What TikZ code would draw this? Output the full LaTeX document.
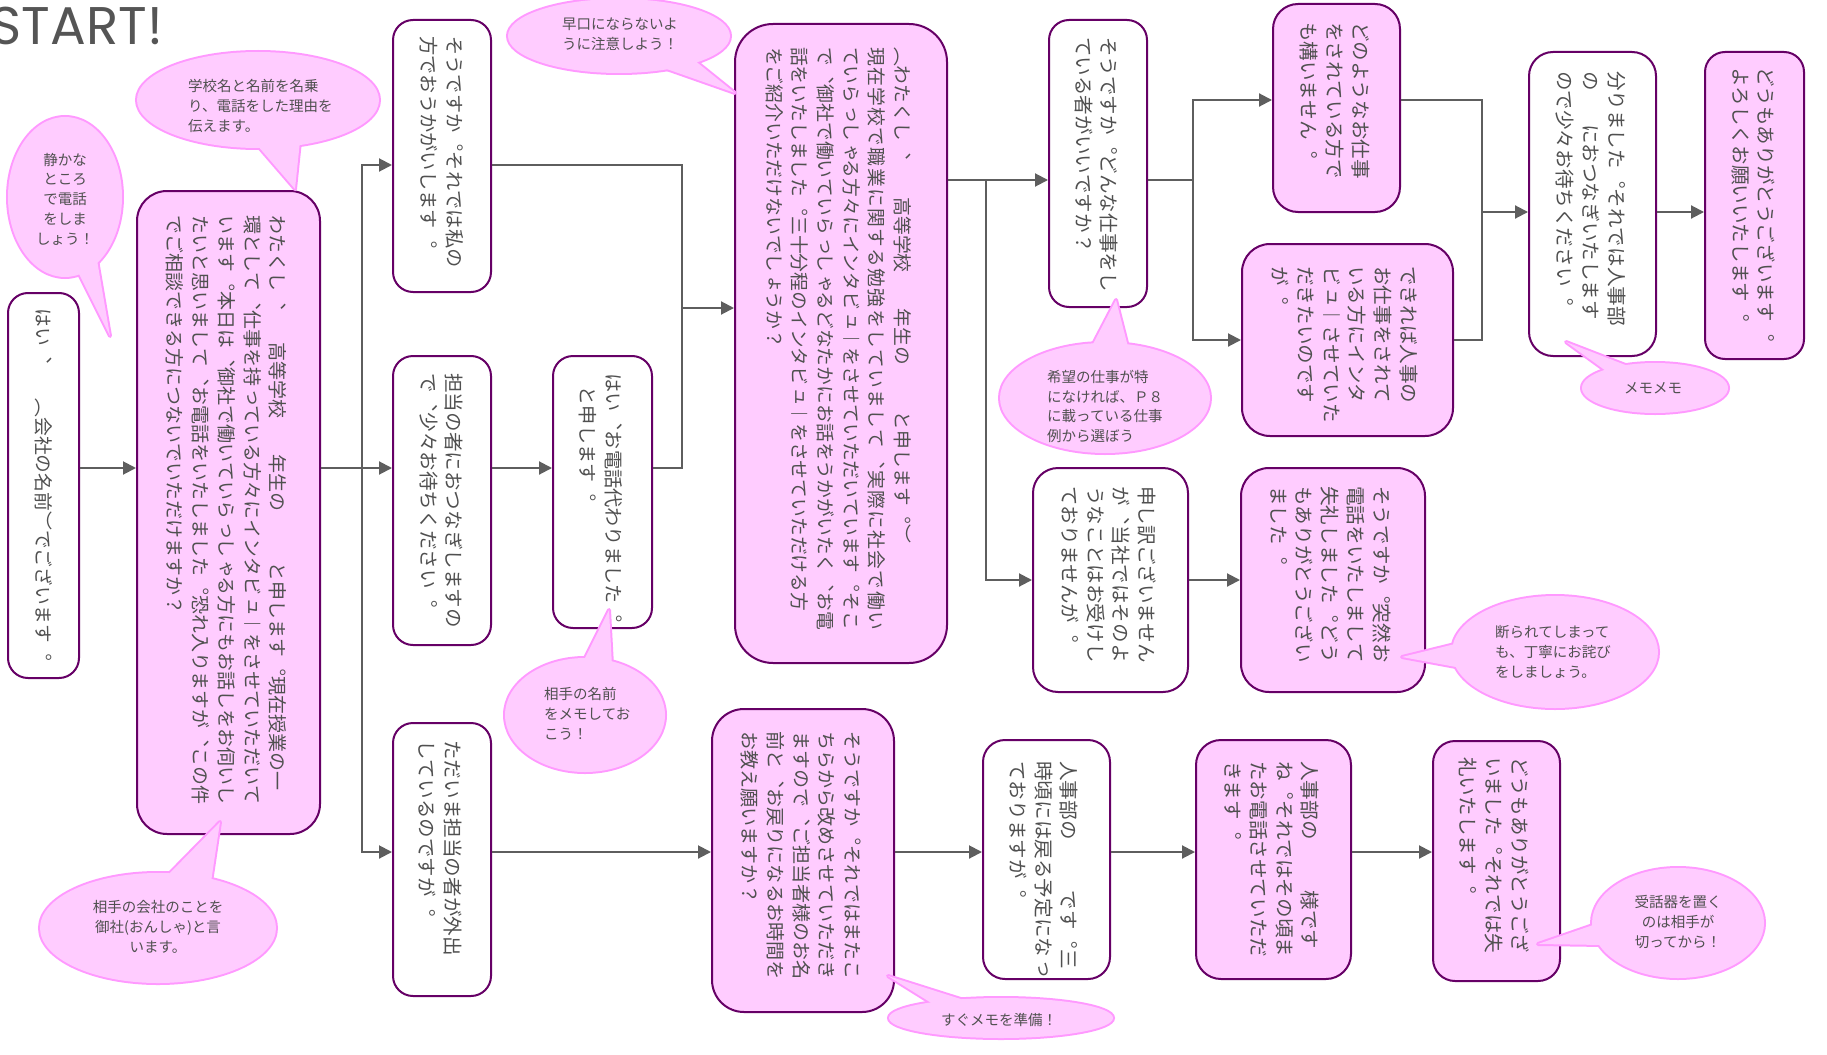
\documentclass[tikz,border=0pt]{standalone}
\usepackage{fontspec}
\usepackage{graphicx}
\usetikzlibrary{arrows.meta,shapes.geometric}
\newfontfamily\jpfont{Noto Sans CJK JP}
\newfontfamily\vjpfont[Vertical=RotatedGlyphs]{Noto Sans CJK JP}
\newfontfamily\startfont{Poppins}
\definecolor{boxline}{HTML}{660066}
\definecolor{boxpink}{HTML}{FFCCFF}
\definecolor{callline}{HTML}{FF99FF}
\definecolor{txt}{HTML}{505050}
\definecolor{wire}{HTML}{5E5E5E}
\definecolor{titlegray}{HTML}{555555}
\newcommand\cfont{\jpfont\fontsize{14.5pt}{19.8pt}\selectfont}
% vertical (top-to-bottom, right-to-left) Japanese text; columns separated by \\
\newcommand\vcols[2][19.6pt]{\rotatebox{-90}{\vjpfont\fontsize{#1}{25.7pt}\selectfont\let\\\cr
  \vbox{\baselineskip=25.7pt\lineskiplimit=-\maxdimen\lineskip=0pt\halign{##\hfil\cr#2\crcr}}}}
% a column spread evenly over a given length
\let\jstend\relax
\def\jst#1#2{\hbox to #1{\jstloop#2\jstend}}
\def\jstloop#1{\ifx#1\jstend\unskip\else#1\hskip0pt plus 1fil\expandafter\jstloop\fi}
% speech bubble: name, centre, x radius, y radius, tail base, tail tip, tail base
\newcommand\callout[7]{%
  \path[draw=callline,fill=callline,line width=4pt,line join=round] (#5) -- (#6) -- (#7) -- cycle;
  \path[draw=callline,line width=4pt] (#2) ellipse [x radius=#3pt, y radius=#4pt];
  \node[ellipse,fill=boxpink,inner sep=0pt,minimum width=#3pt*2,minimum height=#4pt*2] (#1) at (#2) {};
  \fill[boxpink] (#5) -- (#6) -- (#7) -- cycle;
}
\begin{document}
\begin{tikzpicture}[x=1pt,y=-1pt,
  wbox/.style={draw=boxline,line width=2pt,fill=white,rounded corners=#1,inner sep=0pt},
  wbox/.default=20pt,
  pbox/.style={draw=boxline,line width=2pt,fill=boxpink,rounded corners=#1,inner sep=0pt},
  pbox/.default=20pt,
  vt/.style={anchor=north,inner sep=0pt,text=txt},
  ctl/.style={inner sep=0pt,text=txt,font=\cfont,align=left},
  ctc/.style={inner sep=0pt,text=txt,font=\cfont,align=center},
  ln/.style={draw=wire,line width=2pt},
  arr/.style={draw=wire,line width=2pt,-{Triangle[length=13pt,width=13pt]}}]
\useasboundingbox (0,0) rectangle (1827,1054);
\fill[white] (0,0) rectangle (1827,1054);

\node[anchor=base east,inner sep=0pt,text=titlegray,font=\startfont\fontsize{53pt}{53pt}\selectfont] (title) at (163,45) {START!};

% boxes
\node[wbox,minimum width=71pt,minimum height=385pt] (a) at (43.5,485.5) {};
\node[pbox=30pt,minimum width=183pt,minimum height=643pt] (b) at (228.5,512.5) {};
\node[wbox,minimum width=98pt,minimum height=272pt] (c) at (442,156) {};
\node[wbox,minimum width=98pt,minimum height=289pt] (d) at (442,500.5) {};
\node[wbox,minimum width=99pt,minimum height=272pt] (e) at (602.5,492) {};
\node[wbox,minimum width=98pt,minimum height=273pt] (absent) at (442,859.5) {};
\node[pbox=38pt,minimum width=212pt,minimum height=639pt] (f) at (841,343.5) {};
\node[wbox,minimum width=98pt,minimum height=287pt] (g) at (1098,163.5) {};
\node[pbox=25pt,minimum width=127pt,minimum height=208pt] (k) at (1336.5,108) {};
\node[pbox=28pt,minimum width=211pt,minimum height=192pt] (l) at (1347.5,340) {};
\node[wbox=24pt,minimum width=127pt,minimum height=304pt] (m) at (1592.5,204) {};
\node[pbox,minimum width=99pt,minimum height=307pt] (n) at (1754.5,205.5) {};
\node[wbox=25pt,minimum width=155pt,minimum height=224pt] (j) at (1110.5,580) {};
\node[pbox=28pt,minimum width=184pt,minimum height=224pt] (p) at (1333,580) {};
\node[pbox=32pt,minimum width=182pt,minimum height=303pt] (h) at (803,860.5) {};
\node[wbox=22pt,minimum width=127pt,minimum height=239pt] (q) at (1046.5,859.5) {};
\node[pbox=25pt,minimum width=155pt,minimum height=239pt] (r) at (1273.5,859.5) {};
\node[pbox=22pt,minimum width=127pt,minimum height=240pt] (s) at (1496.5,861) {};

% connector levels and junctions
\coordinate (lvC) at (0,165);
\coordinate (lvB) at (0,852);
\coordinate (lvJ) at (0,580);
\coordinate (lvK) at (0,100);
\coordinate (lvL) at (0,340);
\coordinate (j1) at (362,468);
\coordinate (j2) at (682,308);
\coordinate (j3) at (986,180);
\coordinate (j4) at (1193,180);
\coordinate (j5) at (1482,212);

\draw[arr] (a.east |- j1) -- (b.west |- j1);
\draw[ln] (b.east |- j1) -- (j1);
\draw[arr] (j1) |- (c.west |- lvC);
\draw[arr] (j1) -- (d.west |- j1);
\draw[arr] (j1) |- (absent.west |- lvB);
\draw[arr] (d.east |- j1) -- (e.west |- j1);
\draw[ln] (c.east |- lvC) -| (j2);
\draw[ln] (e.east |- j1) -| (j2);
\draw[arr] (j2) -- (f.west |- j2);
\draw[ln] (f.east |- j3) -- (j3);
\draw[arr] (j3) -- (g.west |- j3);
\draw[arr] (j3) |- (j.west |- lvJ);
\draw[ln] (g.east |- j4) -- (j4);
\draw[arr] (j4) |- (k.west |- lvK);
\draw[arr] (j4) |- (l.west |- lvL);
\draw[ln] (k.east |- lvK) -| (j5);
\draw[ln] (l.east |- lvL) -| (j5);
\draw[arr] (j5) -- (m.west |- j5);
\draw[arr] (m.east |- j5) -- (n.west |- j5);
\draw[arr] (j.east |- lvJ) -- (p.west |- lvJ);
\draw[arr] (absent.east |- lvB) -- (h.west |- lvB);
\draw[arr] (h.east |- lvB) -- (q.west |- lvB);
\draw[arr] (q.east |- lvB) -- (r.west |- lvB);
\draw[arr] (r.east |- lvB) -- (s.west |- lvB);

% speech bubbles
\callout{tipquiet}{65,197}{57}{80}{78,272}{110,336}{97,260}
\callout{tipname}{258,100}{121}{48}{257,145}{295,189}{300,141}
\callout{tiponsha}{158,928}{118}{55}{168,875}{220,822}{211,882}
\callout{tipmemo}{585,715}{80}{57}{583,662}{609,610}{612,666}
\callout{tipslow}{619,36}{111}{37}{694,60}{735,93}{661,67}
\callout{tipjob}{1105,398}{105}{55}{1092,346}{1116,300}{1128,347}
\callout{tipmemomemo}{1655,388}{73}{25}{1606,371}{1566,342}{1628,366}
\callout{tipsorry}{1555,652}{103}{56}{1455,644}{1402,657}{1456,667}
\callout{tipready}{1001,1018}{112}{20}{933,1004}{888,976}{967,1001}
\callout{tiphangup}{1678,923}{86}{55}{1596,924}{1538,944}{1604,945}

\node[ctc] at (65,199) {静かな\\ところ\\で電話\\をしま\\しょう！};
\node[ctl,anchor=west] at (188,106) {学校名と名前を名乗\\り、電話をした理由を\\伝えます。};
\node[ctc] at (158,927) {相手の会社のことを\\御社(おんしゃ)と言\\います。};
\node[ctl,anchor=west] at (544,714) {相手の名前\\をメモしてお\\こう！};
\node[ctl,anchor=west] at (562,34) {早口にならないよ\\うに注意しよう！};
\node[ctl,anchor=west] at (1047,406.5) {希望の仕事が特\\になければ、Ｐ８\\に載っている仕事\\例から選ぼう};
\node[ctc] at (1653,388) {メモメモ};
\node[ctl,anchor=west] at (1495,652) {断られてしまって\\も、丁寧にお詫び\\をしましょう。};
\node[ctc] at (999,1020) {すぐメモを準備！};
\node[ctc] at (1678,922) {受話器を置く\\のは相手が\\切ってから！};

% box texts
\node[vt] (a-t) at (43.5,308) {\vcols[18.8pt]{はい︑\hspace{1.8em}︵会社の名前︶でございます︒}};
\node[vt] (b-t) at (226.6,215) {\vcols[19pt]{わたくし︑\hspace{1.7em}高等学校\hspace{1.9em}年生の\hspace{2.7em}と申します︒現在授業の一\\環として︑仕事を持っている方々にインタビュ︱をさせていただいて\\います︒本日は︑御社で働いていらっしゃる方にもお話しをお伺いし\\たいと思いまして︑お電話をいたしました︒恐れ入りますが︑この件\\でご相談できる方につないでいただけますか？}};
\node[vt] (c-t) at (441.5,36) {\vcols[19.3pt]{そうですか︒それでは私の\\方でおうかがいします︒}};
\node[vt] (d-t) at (441.5,373) {\vcols{担当の者におつなぎしますの\\で︑少々お待ちください︒}};
\node[vt] (e-t) at (600.5,373) {\vcols[19.2pt]{はい︑お電話代わりました︒\\\hspace{0.7em}と申します︒}};
\node[vt] (absent-t) at (440.5,740) {\vcols{ただいま担当の者が外出\\しているのですが︒}};
\node[vt] (f-t) at (838.5,47) {\vcols[18.8pt]{︵わたくし︑\hspace{2em}高等学校\hspace{1.9em}年生の\hspace{2.5em}と申します︒︶\\\jst{31em}{現在学校で職業に関する勉強をしていまして︑実際に社会で働い}\\ていらっしゃる方々にインタビュ︱をさせていただいています︒そこ\\で︑御社で働いていらっしゃるどなたかにお話をうかがいたく︑お電\\話をいたしました︒三十分程のインタビュ︱をさせていただける方\\をご紹介いただけないでしょうか？}};
\node[vt] (g-t) at (1096.5,37) {\vcols{そうですか︒どんな仕事をし\\ている者がいいですか？}};
\node[vt] (k-t) at (1335,22) {\vcols{どのようなお仕事\\をされている方で\\も構いません︒}};
\node[vt] (l-t) at (1345,266) {\vcols{できれば人事の\\お仕事をされて\\いる方にインタ\\ビュ︱させていた\\だきたいのです\\が︒}};
\node[vt] (m-t) at (1591,71) {\vcols{分りました︒それでは人事部\\の\hspace{1.7em}におつなぎいたします\\ので少々お待ちください︒}};
\node[vt] (n-t) at (1753.5,67) {\vcols{どうもありがとうございます︒\\よろしくお願いいたします︒}};
\node[vt] (j-t) at (1109,486) {\vcols{申し訳ございません\\が︑当社ではそのよ\\うなことはお受けし\\ておりませんが︒}};
\node[vt] (p-t) at (1330.5,486) {\vcols{そうですか︒突然お\\電話をいたしまして\\失礼しました︒どう\\もありがとうござい\\ました︒}};
\node[vt] (h-t) at (801,731) {\vcols[19.1pt]{そうですか︒それではまたこ\\ちらから改めさせていただき\\ますので︑ご担当者様のお名\\前と︑お戻りになるお時間を\\お教え願いますか？}};
\node[vt] (q-t) at (1044,761) {\vcols{人事部の\hspace{2.6em}です︒三\\時頃には戻る予定になっ\\ておりますが︒}};
\node[vt] (r-t) at (1272,761) {\vcols{人事部の\hspace{2.6em}様です\\ね︒それではその頃ま\\たお電話させていただ\\きます︒}};
\node[vt] (s-t) at (1494,757) {\vcols{どうもありがとうござ\\いました︒それでは失\\礼いたします︒}};
\end{tikzpicture}
\end{document}
